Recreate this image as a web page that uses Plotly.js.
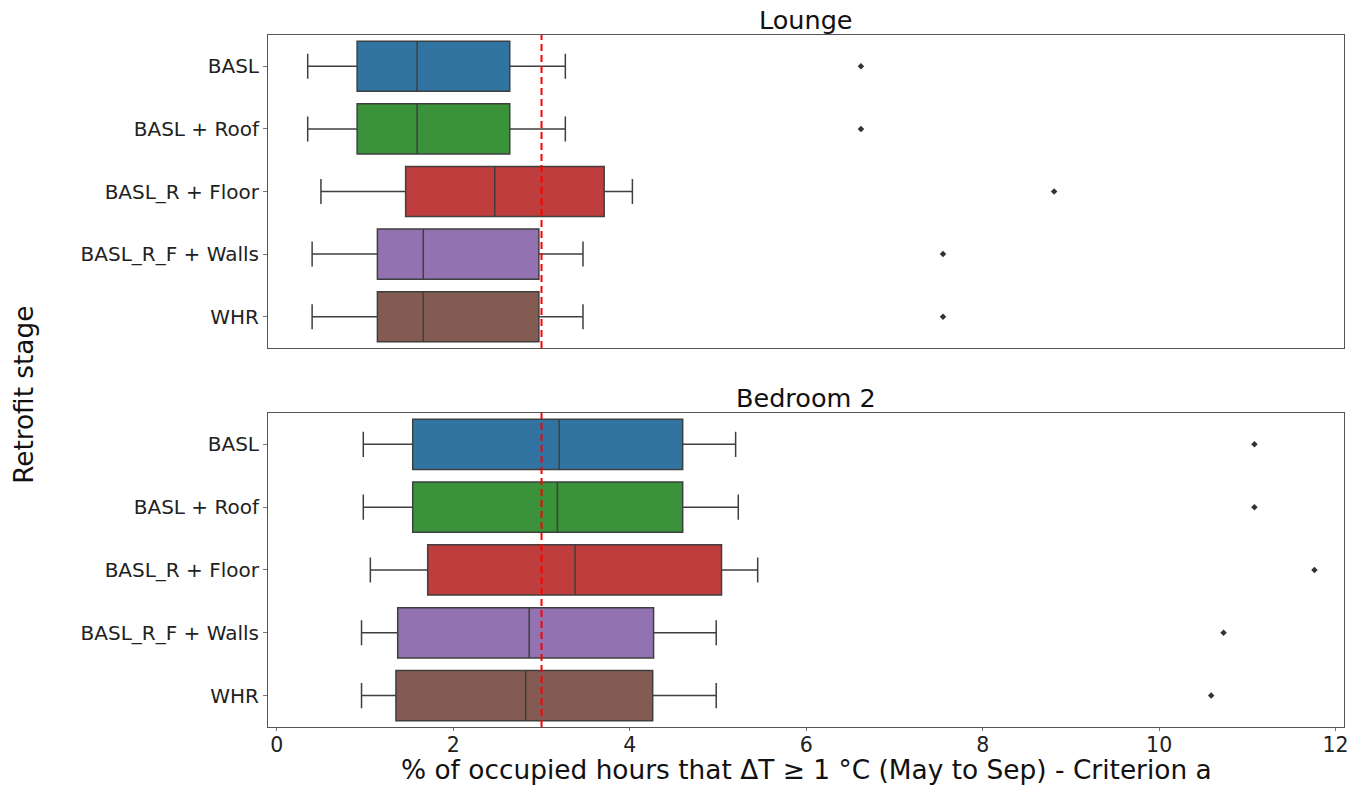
<!DOCTYPE html>
<html>
<head>
<meta charset="utf-8">
<script src="https://cdn.plot.ly/plotly-3.0.1.min.js"></script>
<style>html,body{margin:0;padding:0;background:#fff;}#chart{width:1362px;height:789px;}</style>
</head>
<body>
<div id="chart"></div>
<script>
const categories = ['BASL', 'BASL + Roof', 'BASL_R + Floor', 'BASL_R_F + Walls', 'WHR'];
const colors = ['#3274a1', '#3a923a', '#c03d3e', '#9372b2', '#845b53'];

// Lounge
const loungeLower   = [0.35, 0.35, 0.50, 0.40, 0.40];
const loungeQ1      = [0.91, 0.91, 1.46, 1.14, 1.14];
const loungeMedian  = [1.59, 1.59, 2.47, 1.66, 1.66];
const loungeQ3      = [2.64, 2.64, 3.71, 2.97, 2.97];
const loungeUpper   = [3.27, 3.27, 4.03, 3.47, 3.47];
const loungeOutlier = [6.62, 6.62, 8.81, 7.55, 7.55];

// Bedroom 2
const bedLower   = [0.98, 0.98, 1.06, 0.96, 0.96];
const bedQ1      = [1.54, 1.54, 1.71, 1.37, 1.35];
const bedMedian  = [3.20, 3.18, 3.38, 2.86, 2.82];
const bedQ3      = [4.60, 4.60, 5.04, 4.27, 4.26];
const bedUpper   = [5.20, 5.23, 5.45, 4.98, 4.98];
const bedOutlier = [11.08, 11.08, 11.76, 10.73, 10.59];

const threshold = 3;
const xTicks = [0, 2, 4, 6, 8, 10, 12];

const FONT = 'DejaVu Sans, sans-serif';
const traces = [];

function addPanel(lower, q1, med, q3, upper, outl, xa, ya) {
  categories.forEach((c, i) => {
    traces.push({
      type: 'box', orientation: 'h',
      y: [c], q1: [q1[i]], median: [med[i]], q3: [q3[i]],
      lowerfence: [lower[i]], upperfence: [upper[i]],
      xaxis: xa, yaxis: ya,
      width: 0.8, whiskerwidth: 0.5,
      fillcolor: colors[i],
      line: {color: '#3f3f3f', width: 1.5},
      boxpoints: false, showlegend: false, hoverinfo: 'skip'
    });
  });
  traces.push({
    type: 'scatter', mode: 'markers',
    x: outl, y: categories, xaxis: xa, yaxis: ya,
    marker: {symbol: 'diamond', size: 5, color: '#333333'},
    showlegend: false, hoverinfo: 'skip'
  });
}

addPanel(loungeLower, loungeQ1, loungeMedian, loungeQ3, loungeUpper, loungeOutlier, 'x', 'y');
addPanel(bedLower, bedQ1, bedMedian, bedQ3, bedUpper, bedOutlier, 'x2', 'y2');

const xRange = [-0.1, 12.095];
const yRange = [4.5, -0.5];
const frame = {showline: true, linecolor: '#555', linewidth: 1, mirror: true, zeroline: false, showgrid: false};
const yTickFont = {size: 20, family: FONT, color: '#222'};

const layout = {
  width: 1362, height: 789,
  margin: {l: 268, r: 18, t: 35, b: 62},
  paper_bgcolor: '#fff', plot_bgcolor: '#fff',
  font: {family: FONT, color: '#222', size: 20},
  showlegend: false,
  boxmode: 'overlay',
  xaxis: Object.assign({}, frame, {anchor: 'y', domain: [0, 1], range: xRange, showticklabels: false, ticks: ''}),
  yaxis: Object.assign({}, frame, {anchor: 'x', domain: [0.5477, 1], type: 'category',
    categoryorder: 'array', categoryarray: categories, range: yRange, autorange: false,
    ticks: 'outside', ticklen: 4, tickcolor: '#777', tickfont: yTickFont}),
  xaxis2: Object.assign({}, frame, {anchor: 'y2', domain: [0, 1], range: xRange,
    tickmode: 'array', tickvals: xTicks, ticktext: xTicks.map(String),
    ticks: 'outside', ticklen: 3, tickcolor: '#777', ticklabelstandoff: -4,
    tickfont: {size: 20.5, family: FONT, color: '#222'}}),
  yaxis2: Object.assign({}, frame, {anchor: 'x2', domain: [0, 0.4538], type: 'category',
    categoryorder: 'array', categoryarray: categories, range: yRange, autorange: false,
    ticks: 'outside', ticklen: 4, tickcolor: '#777', tickfont: yTickFont}),
  shapes: [
    {type: 'line', xref: 'x', yref: 'y domain', x0: threshold, x1: threshold, y0: 0, y1: 1,
     line: {color: '#ff0000', width: 2, dash: '7px,4px'}},
    {type: 'line', xref: 'x2', yref: 'y2 domain', x0: threshold, x1: threshold, y0: 0, y1: 1,
     line: {color: '#ff0000', width: 2, dash: '7px,4px'}}
  ],
  annotations: [
    {text: 'Lounge', xref: 'paper', yref: 'paper', x: 0.5, y: 1.0217, xanchor: 'center', yanchor: 'middle',
     showarrow: false, font: {size: 25.5, family: FONT, color: '#111'}},
    {text: 'Bedroom 2', xref: 'paper', yref: 'paper', x: 0.5, y: 0.4754, xanchor: 'center', yanchor: 'middle',
     showarrow: false, font: {size: 25.5, family: FONT, color: '#111'}},
    {text: 'Retrofit stage', xref: 'paper', yref: 'paper', x: -0.2268, y: 0.48, xanchor: 'center', yanchor: 'middle',
     textangle: -90, showarrow: false, font: {size: 26.3, family: FONT, color: '#111'}},
    {text: '% of occupied hours that ΔT ≥ 1 °C (May to Sep) - Criterion a', xref: 'paper', yref: 'paper',
     x: 0.5, y: -0.062, xanchor: 'center', yanchor: 'middle',
     showarrow: false, font: {size: 26.4, family: FONT, color: '#111'}}
  ]
};

Plotly.newPlot('chart', traces, layout, {staticPlot: true, displayModeBar: false});
</script>
</body>
</html>
